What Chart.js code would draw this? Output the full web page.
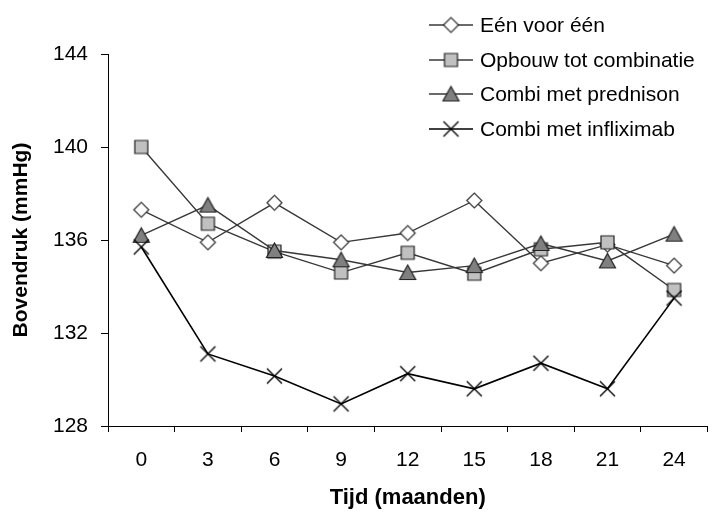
<!DOCTYPE html>
<html><head><meta charset="utf-8">
<script src="https://cdn.jsdelivr.net/npm/chart.js@4"></script>
<style>html,body{margin:0;padding:0;background:#fff}#wrap{width:717px;height:513px;position:relative}</style>
</head><body><div id="wrap"><canvas id="c" width="717" height="513"></canvas></div>
<script>
const categories = ['0', '3', '6', '9', '12', '15', '18', '21', '24'];
const seriesNames = ['Eén voor één', 'Opbouw tot combinatie', 'Combi met prednison', 'Combi met infliximab'];
const eenVoorEen = [137.3, 135.9, 137.6, 135.9, 136.3, 137.7, 135.0, 135.8, 134.9];
const opbouw = [140.0, 136.7, 135.5, 134.6, 135.45, 134.55, 135.6, 135.9, 133.85];
const prednison = [136.2, 137.5, 135.55, 135.15, 134.6, 134.9, 135.85, 135.1, 136.25];
const infliximab = [135.7, 131.1, 130.15, 128.95, 130.25, 129.6, 130.7, 129.6, 133.5];
const yTicks = [128, 132, 136, 140, 144];
const xTitle = 'Tijd (maanden)';
const yTitle = 'Bovendruk (mmHg)';

const FONT = '"Liberation Sans", Arial, sans-serif';

function makeMarker(kind) {
  const c = document.createElement('canvas');
  c.width = 21; c.height = 21;
  const g = c.getContext('2d');
  g.lineWidth = 1.2;
  g.strokeStyle = '#222';
  const m = 10.5;
  g.beginPath();
  if (kind === 'diamond') {
    g.moveTo(m - 7.5, m); g.lineTo(m, m - 7.5); g.lineTo(m + 7.5, m); g.lineTo(m, m + 7.5); g.closePath();
    g.fillStyle = '#fff'; g.fill(); g.strokeStyle = '#333'; g.stroke();
  } else if (kind === 'square') {
    g.rect(m - 6.5, m - 6.5, 13, 13);
    g.fillStyle = '#c0c0c0'; g.fill(); g.stroke();
  } else if (kind === 'triangle') {
    g.moveTo(m, m - 7.5); g.lineTo(m + 8, m + 7); g.lineTo(m - 8, m + 7); g.closePath();
    g.fillStyle = '#808080'; g.fill(); g.stroke();
  } else {
    g.lineWidth = 1.4; g.strokeStyle = '#000';
    g.moveTo(m - 7.5, m - 7.5); g.lineTo(m + 7.5, m + 7.5);
    g.moveTo(m + 7.5, m - 7.5); g.lineTo(m - 7.5, m + 7.5);
    g.stroke();
  }
  return c;
}
const markers = [makeMarker('diamond'), makeMarker('square'), makeMarker('triangle'), makeMarker('x')];
const lineColors = ['#383838', '#383838', '#383838', '#000'];
const lineWidths = [1.4, 1.4, 1.4, 1.6];
const seriesValues = [eenVoorEen, opbouw, prednison, infliximab];

const datasets = seriesNames.map((name, i) => ({
  label: name,
  data: seriesValues[i],
  borderColor: lineColors[i],
  borderWidth: lineWidths[i],
  pointStyle: markers[i],
  pointRadius: 8,
  pointHoverRadius: 8,
  tension: 0,
  fill: false,
  order: 4 - i
}));

const legendPlugin = {
  id: 'customLegend',
  afterDraw(chart) {
    const ctx = chart.ctx;
    ctx.save();
    ctx.font = '21px ' + FONT;
    ctx.textBaseline = 'middle';
    ctx.textAlign = 'left';
    ctx.fillStyle = '#000';
    seriesNames.forEach((name, i) => {
      const y = Math.round(25 + i * 34.5);
      ctx.beginPath();
      ctx.strokeStyle = lineColors[i];
      ctx.lineWidth = lineWidths[i];
      ctx.moveTo(429, y); ctx.lineTo(473, y);
      ctx.stroke();
      const mk = markers[i];
      ctx.drawImage(mk, 451 - mk.width / 2, y - mk.height / 2);
      ctx.fillText(name, 480, y + 1);
    });
    ctx.restore();
  }
};

new Chart(document.getElementById('c'), {
  type: 'line',
  data: { labels: categories, datasets },
  options: {
    responsive: false,
    animation: false,
    devicePixelRatio: 1,
    layout: { padding: { top: 54, right: 4, left: 0, bottom: 0 } },
    plugins: { legend: { display: false }, tooltip: { enabled: false } },
    scales: {
      x: {
        type: 'category',
        offset: true,
        grid: { offset: true, drawOnChartArea: false, drawTicks: true, tickLength: 6, color: '#000' },
        border: { display: true, color: '#000', width: 1 },
        ticks: { color: '#000', font: { family: FONT, size: 21 }, padding: 16, maxRotation: 0 },
        title: { display: true, text: xTitle, color: '#000', font: { family: FONT, size: 22, weight: 'bold' }, padding: { top: 0, bottom: 2 } },
        afterFit(s) { s.height = 87; }
      },
      y: {
        min: yTicks[0],
        max: yTicks[yTicks.length - 1],
        afterBuildTicks(s) { s.ticks = yTicks.map(v => ({ value: v })); },
        grid: { drawOnChartArea: false, drawTicks: true, tickLength: 7, color: '#000' },
        border: { display: true, color: '#000', width: 1 },
        ticks: { color: '#000', font: { family: FONT, size: 21 }, padding: 13 },
        title: { display: true, text: yTitle, color: '#000', font: { family: FONT, size: 21, weight: 'bold' }, padding: { top: 9, bottom: 0 } },
        afterFit(s) { s.width = 108; }
      }
    }
  },
  plugins: [legendPlugin]
});
</script>
</body></html>
